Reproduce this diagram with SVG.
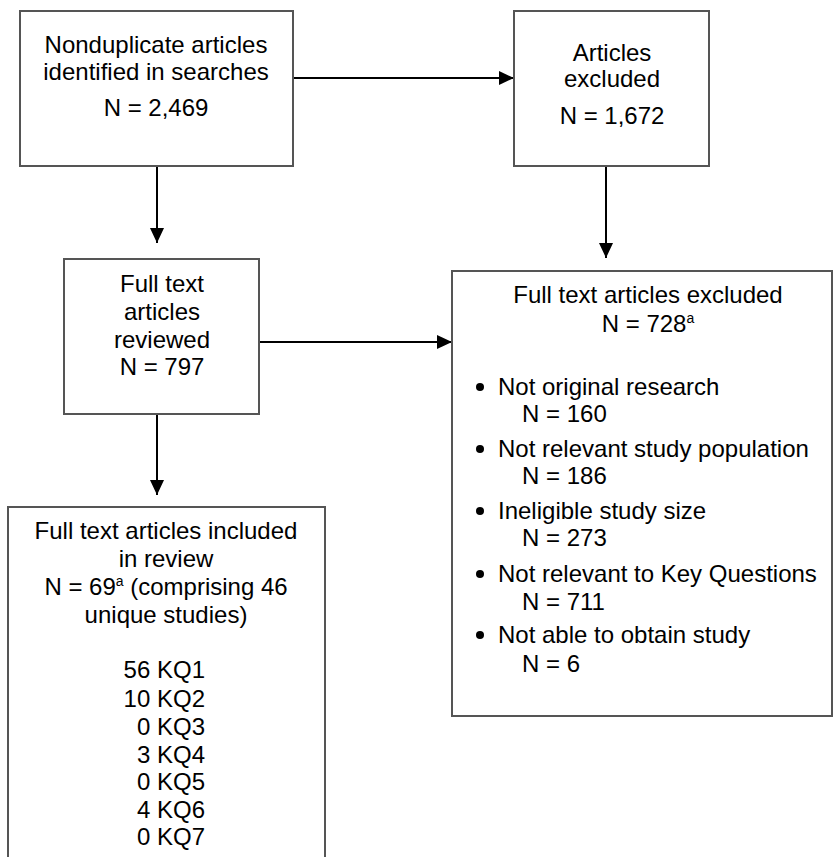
<svg xmlns="http://www.w3.org/2000/svg" width="833" height="857" viewBox="0 0 833 857">
<style>
.box{fill:#fff;stroke:#555;stroke-width:2}
.t{font-family:"Liberation Sans",Arial,sans-serif;font-size:24px;fill:#000}
.c{text-anchor:middle}
.e{text-anchor:end}
.conn{stroke:#000;stroke-width:2;fill:none}
.sup{font-size:14px}
</style>
<defs>
<marker id="ah" markerUnits="userSpaceOnUse" markerWidth="16" markerHeight="14" refX="15" refY="7" orient="auto">
<path d="M0,0 L15,7 L0,14 Z" fill="#000"/>
</marker>
</defs>
<rect width="833" height="857" fill="#fff"/>
<g id="connectors">
<line class="conn" x1="293" y1="78" x2="514" y2="78" marker-end="url(#ah)"/>
<line class="conn" x1="157" y1="166" x2="157" y2="243" marker-end="url(#ah)"/>
<line class="conn" x1="606" y1="166" x2="606" y2="258" marker-end="url(#ah)"/>
<line class="conn" x1="259" y1="342" x2="452" y2="342" marker-end="url(#ah)"/>
<line class="conn" x1="157" y1="414" x2="157" y2="495" marker-end="url(#ah)"/>
</g>
<g id="n1">
<rect class="box" x="20" y="11" width="273" height="155"/>
<text class="t c" x="156" y="53">Nonduplicate articles</text>
<text class="t c" x="156" y="80">identified in searches</text>
<text class="t c" x="156" y="116">N = 2,469</text>
</g>
<g id="n2">
<rect class="box" x="514" y="11" width="195" height="155"/>
<text class="t c" x="612" y="61">Articles</text>
<text class="t c" x="612" y="87">excluded</text>
<text class="t c" x="612" y="124">N = 1,672</text>
</g>
<g id="n3">
<rect class="box" x="64" y="259" width="195" height="155"/>
<text class="t c" x="162" y="292">Full text</text>
<text class="t c" x="162" y="320">articles</text>
<text class="t c" x="162" y="348">reviewed</text>
<text class="t c" x="162" y="375">N = 797</text>
</g>
<g id="n4">
<rect class="box" x="452" y="271" width="380" height="445"/>
<text class="t c" x="648" y="303">Full text articles excluded</text>
<text class="t c" x="648" y="332">N = 728<tspan class="sup" dy="-9">a</tspan></text>
<circle cx="480" cy="387" r="4" fill="#000"/>
<text class="t" x="498" y="395">Not original research</text>
<text class="t" x="522" y="422">N = 160</text>
<circle cx="480" cy="449" r="4" fill="#000"/>
<text class="t" x="498" y="457">Not relevant study population</text>
<text class="t" x="522" y="484">N = 186</text>
<circle cx="480" cy="511" r="4" fill="#000"/>
<text class="t" x="498" y="519">Ineligible study size</text>
<text class="t" x="522" y="546">N = 273</text>
<circle cx="480" cy="574" r="4" fill="#000"/>
<text class="t" x="498" y="582">Not relevant to Key Questions</text>
<text class="t" x="522" y="610">N = 711</text>
<circle cx="480" cy="635" r="4" fill="#000"/>
<text class="t" x="498" y="643">Not able to obtain study</text>
<text class="t" x="522" y="672">N = 6</text>
</g>
<g id="n5">
<path class="box" d="M8,870 L8,507 L325,507 L325,870"/>
<text class="t c" x="166" y="539">Full text articles included</text>
<text class="t c" x="166" y="567">in review</text>
<text class="t c" x="166" y="595">N = 69<tspan class="sup" dy="-9">a</tspan><tspan dy="9"> (comprising 46</tspan></text>
<text class="t c" x="166" y="623">unique studies)</text>
<text class="t e" x="205" y="678">56 KQ1</text>
<text class="t e" x="205" y="707">10 KQ2</text>
<text class="t e" x="205" y="735">0 KQ3</text>
<text class="t e" x="205" y="763">3 KQ4</text>
<text class="t e" x="205" y="790">0 KQ5</text>
<text class="t e" x="205" y="818">4 KQ6</text>
<text class="t e" x="205" y="845">0 KQ7</text>
</g>
</svg>
